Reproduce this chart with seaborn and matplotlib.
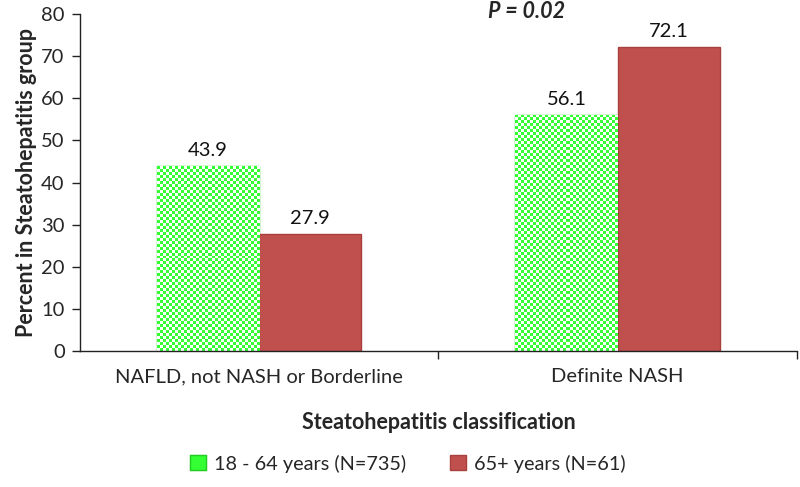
import numpy as np
import pandas as pd
import seaborn as sns
import matplotlib.pyplot as plt
from matplotlib.colors import ListedColormap

# data
categories = ['NAFLD, not NASH or Borderline', 'Definite NASH']
groups = ['18 - 64 years (N=735)', '65+ years (N=61)']
young = [43.9, 56.1]
old = [27.9, 72.1]
p_text = 'P = 0.02'

green = '#33FF33'
red = '#C0504D'

df = pd.DataFrame({
    'category': categories * 2,
    'group': [groups[0]] * 2 + [groups[1]] * 2,
    'percent': young + old,
})

sns.set_style('white')
plt.rcParams['font.family'] = ['Lato', 'DejaVu Sans']

fig = plt.figure(figsize=(8, 4.87), dpi=100)
ax = fig.add_axes([0.1, 0.279, 0.896, 0.692])

sns.barplot(data=df, x='category', y='percent', hue='group', order=categories,
            hue_order=groups, palette=[green, red], width=0.57, saturation=1,
            errorbar=None, linewidth=1, ax=ax, legend=False)

# edge colours
for bar in ax.containers[0]:
    bar.set_edgecolor('#22CC22')
for bar in ax.containers[1]:
    bar.set_edgecolor('#A8403D')

ax.set_xlim(-0.5, 1.5)
ax.set_ylim(0, 80)

# checkerboard fill on the green bars
checker_cmap = ListedColormap([green, 'white'])
cell = 3.0  # pixels
for bar in ax.containers[0]:
    x0, y0, w, h = bar.get_x(), bar.get_y(), bar.get_width(), bar.get_height()
    p0 = ax.transData.transform((x0, y0))
    p1 = ax.transData.transform((x0 + w, y0 + h))
    ncols = max(1, int(round((p1[0] - p0[0]) / cell)))
    nrows = max(1, int(round((p1[1] - p0[1]) / cell)))
    board = np.add.outer(np.arange(nrows), np.arange(ncols)) % 2
    im = ax.imshow(board, extent=(x0, x0 + w, y0, y0 + h), cmap=checker_cmap,
                   interpolation='nearest', aspect='auto', zorder=bar.get_zorder() + 0.1)
    im.set_clip_path(bar)

ax.set_xlim(-0.5, 1.5)
ax.set_ylim(0, 80)

for cont in ax.containers:
    ax.bar_label(cont, fmt='%.1f', padding=5, fontsize=14.5, color='#111111')

ax.text(0.747, 80.6, p_text, fontsize=15.5, fontweight='bold', fontstyle='italic',
        ha='center', va='center', clip_on=False)

# axes styling
sns.despine(ax=ax)
for s in ['left', 'bottom']:
    ax.spines[s].set_color('#222222')
    ax.spines[s].set_linewidth(1.0)

ax.set_yticks(np.arange(0, 81, 10))
ax.tick_params(axis='y', which='major', left=True, length=6, width=1,
               color='#222222', labelsize=14.5, pad=5)
ax.set_xticks([0, 1])
ax.set_xticklabels(categories)
ax.tick_params(axis='x', which='major', bottom=False, labelsize=14.5, pad=9)
ax.set_xticks([0.5, 1.5], minor=True)
ax.tick_params(axis='x', which='minor', bottom=True, length=6, width=1, color='#222222')

ax.set_ylabel('Percent in Steatohepatitis group', fontsize=15.5, fontweight='bold', labelpad=3)
ax.set_xlabel('Steatohepatitis classification', fontsize=15.5, fontweight='bold', labelpad=19)

# legend at bottom
handles = [plt.Rectangle((0, 0), 1, 1, facecolor=green, edgecolor='#22CC22'),
           plt.Rectangle((0, 0), 1, 1, facecolor=red, edgecolor='#A8403D')]
leg = fig.legend(handles, groups, loc='center', bbox_to_anchor=(0.51, 0.048), ncol=2,
                 frameon=False, fontsize=14.3, handlelength=0.8, handleheight=0.8,
                 handletextpad=0.4, columnspacing=2.2)

# checkerboard on the legend handle
fig.canvas.draw()
bb = leg.legend_handles[0].get_window_extent().transformed(fig.transFigure.inverted())
hax = fig.add_axes([bb.x0, bb.y0, bb.width, bb.height])
n = 4
hax.imshow(np.add.outer(np.arange(n), np.arange(n)) % 2, cmap=checker_cmap,
           interpolation='nearest', aspect='auto')
hax.set_xticks([])
hax.set_yticks([])
for s in hax.spines.values():
    s.set_color('#22CC22')
    s.set_linewidth(0.8)

fig.savefig('out.png', dpi=100)
